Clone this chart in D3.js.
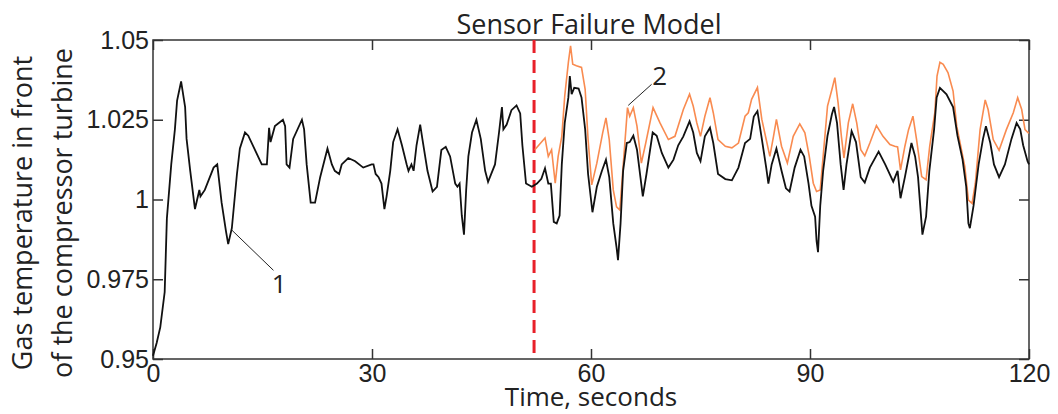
<!DOCTYPE html>
<html lang="en">
<head>
<meta charset="utf-8">
<title>Sensor Failure Model</title>
<script src="https://d3js.org/d3.v7.min.js"></script>
<style>
  body { margin: 0; background: #fff; }
  svg { display: block; font-family: "Open Sans", sans-serif; }
  .axis text { font-size: 25px; fill: #222; }
  .axis path { display: none; }
  .axis line { stroke: #333; stroke-width: 1.5; }
</style>
</head>
<body>
<script>
// data: curve 1 (black, model) and curve 2 (orange, failed sensor)
const time1 = [0, 0.5, 1.0, 1.6, 1.9, 2.5, 3.0, 3.3, 3.85, 4.4, 4.6, 5.1, 5.75, 6.35, 6.5, 7.1, 8.3, 8.8, 9.4, 10.0,
  10.3, 10.8, 11.5, 11.9, 12.6, 13.05, 14.9, 15.6, 15.9, 16.1, 16.7, 17.8, 18.1, 18.3, 18.7, 19.2, 20.4, 20.7, 21.05, 21.6,
  22.2, 22.9, 23.9, 24.5, 24.9, 25.5, 25.85, 26.75, 27.7, 28.8, 29.95, 30.2, 30.5, 30.9, 31.3, 31.7, 32.0, 32.5, 32.9, 33.5,
  34.1, 34.75, 35.0, 35.4, 35.7, 36.1, 36.6, 36.9, 37.6, 38.3, 38.9, 39.5, 40.1, 40.7, 41.4, 41.7, 42.0, 42.3, 42.6, 42.9,
  43.2, 43.7, 44.3, 44.9, 45.5, 45.9, 46.85, 47.4, 47.8, 48.0, 48.45, 49.1, 49.8, 50.3, 50.6, 51.1, 51.9, 52.6, 53.2, 53.7,
  54.15, 54.5, 54.9, 55.3, 55.7, 56.0, 56.4, 56.9, 57.1, 57.35, 57.7, 58.3, 58.7, 59.2, 59.6, 60.2, 60.8, 61.5, 62.05, 62.5,
  63.05, 63.5, 63.7, 64.05, 64.4, 64.9, 65.3, 65.8, 66.3, 67.1, 67.6, 68.45, 69.0, 69.7, 70.6, 71.3, 71.95, 72.65, 73.5, 74.0,
  74.5, 75.0, 75.6, 76.3, 76.75, 77.4, 78.4, 79.3, 80.2, 81.1, 81.8, 82.3, 82.8, 83.4, 84.0, 84.3, 84.75, 85.4, 86.1, 86.7,
  87.2, 87.9, 88.7, 89.2, 89.8, 90.2, 90.7, 90.9, 91.1, 91.4, 91.8, 92.4, 93.0, 93.3, 93.7, 94.2, 94.6, 95.0, 95.7, 96.3,
  96.95, 97.5, 98.2, 99.4, 100.3, 101.4, 102.0, 102.4, 103.0, 103.9, 104.4, 104.8, 105.4, 105.9, 106.35, 107.0, 107.35, 107.8, 108.7, 109.6,
  110.2, 110.9, 111.4, 111.7, 111.9, 112.4, 113.1, 113.7, 114.1, 114.7, 115.2, 115.9, 116.7, 117.6, 118.3, 118.8, 119.2, 119.8, 120];
const temp1 = [0.951, 0.955, 0.960, 0.971, 0.994, 1.011, 1.022, 1.031, 1.037, 1.029, 1.019, 1.009, 0.997, 1.003, 1.001, 1.003, 1.010, 1.011, 0.999, 0.990,
  0.986, 0.991, 1.008, 1.016, 1.021, 1.020, 1.011, 1.011, 1.0225, 1.018, 1.023, 1.025, 1.023, 1.011, 1.010, 1.019, 1.025, 1.022, 1.011, 0.999,
  0.999, 1.007, 1.016, 1.011, 1.009, 1.008, 1.011, 1.013, 1.012, 1.010, 1.011, 1.011, 1.008, 1.007, 1.005, 0.997, 1.001, 1.009, 1.018, 1.022,
  1.017, 1.011, 1.009, 1.011, 1.009, 1.017, 1.0235, 1.019, 1.009, 1.0025, 1.004, 1.0155, 1.0165, 1.0135, 1.005, 1.004, 1.005, 0.995, 0.989, 1.003,
  1.0135, 1.021, 1.025, 1.019, 1.009, 1.0055, 1.011, 1.021, 1.029, 1.022, 1.0235, 1.028, 1.0295, 1.027, 1.017, 1.005, 1.004, 1.005, 1.0065, 1.0098,
  1.005, 1.005, 0.993, 0.9925, 0.995, 1.011, 1.024, 1.032, 1.0387, 1.033, 1.035, 1.0348, 1.032, 1.022, 1.008, 0.996, 1.004, 1.009, 1.0125, 1.007,
  0.9925, 0.985, 0.981, 0.9925, 1.009, 1.0177, 1.018, 1.020, 1.0156, 1.001, 1.008, 1.021, 1.020, 1.0146, 1.010, 1.0125, 1.017, 1.0198, 1.0245, 1.021,
  1.0146, 1.012, 1.0198, 1.0225, 1.0177, 1.008, 1.0064, 1.006, 1.010, 1.0177, 1.019, 1.026, 1.0277, 1.019, 1.010, 1.005, 1.011, 1.016, 1.009, 1.0035,
  1.0025, 1.010, 1.0156, 1.0135, 1.005, 0.998, 0.9946, 0.987, 0.9835, 0.998, 1.009, 1.020, 1.0267, 1.029, 1.024, 1.011, 1.003, 1.011, 1.0214, 1.018,
  1.007, 1.0053, 1.010, 1.015, 1.011, 1.0056, 1.009, 1.0004, 1.007, 1.0177, 1.0135, 1.007, 0.989, 0.9946, 1.009, 1.022, 1.032, 1.035, 1.033, 1.029,
  1.020, 1.0125, 1.004, 0.9925, 0.991, 0.998, 1.011, 1.019, 1.023, 1.0177, 1.011, 1.007, 1.011, 1.019, 1.024, 1.022, 1.017, 1.012, 1.011];

const time2 = [52.3, 53.7, 54.15, 54.6, 55.1, 55.5, 56.0, 56.4, 56.9, 57.2, 57.5, 58.0, 58.7, 59.2, 59.6, 60.1, 60.8, 61.6, 62.05, 62.5,
  63.05, 63.5, 63.95, 64.5, 65.0, 65.3, 65.8, 66.3, 66.9, 67.5, 68.5, 69.45, 70.6, 71.5, 72.65, 73.5, 74.0, 74.5, 75.0, 75.6,
  76.3, 76.75, 77.4, 78.4, 79.3, 80.2, 81.1, 81.55, 82.0, 82.8, 83.4, 84.0, 84.5, 85.0, 85.4, 86.1, 86.9, 87.7, 88.6, 89.3,
  89.9, 90.45, 90.9, 91.4, 91.8, 92.4, 93.0, 93.4, 93.85, 94.3, 94.65, 95.25, 95.85, 96.4, 96.95, 97.5, 98.2, 99.1, 100.0, 100.95,
  101.6, 102.0, 102.4, 103.0, 103.5, 104.1, 104.6, 105.3, 105.9, 106.4, 107.1, 107.4, 107.8, 108.25, 108.9, 109.6, 110.1, 110.65, 111.2, 111.7,
  112.2, 112.65, 113.3, 114.0, 114.4, 115.1, 115.9, 116.9, 117.85, 118.45, 119.0, 119.45, 119.9, 120];
const temp2 = [1.0156, 1.0193, 1.0135, 1.0156, 1.0051, 1.0135, 1.0198, 1.0324, 1.043, 1.0482, 1.0424, 1.0419, 1.0414, 1.0345, 1.0188, 1.0046, 1.0114, 1.0209, 1.0256, 1.0188,
  1.003, 0.9977, 0.9967, 1.0135, 1.0288, 1.0261, 1.0288, 1.023, 1.0114, 1.0177, 1.0288, 1.024, 1.0188, 1.0198, 1.0282, 1.033, 1.0293, 1.024, 1.0198, 1.0261,
  1.0319, 1.0272, 1.0188, 1.0167, 1.0162, 1.0177, 1.0261, 1.0272, 1.0314, 1.0351, 1.0251, 1.0188, 1.0135, 1.0198, 1.0251, 1.0167, 1.0114, 1.0198, 1.0237, 1.0209,
  1.0135, 1.0051, 1.0025, 1.003, 1.0135, 1.0293, 1.0345, 1.0382, 1.0303, 1.0198, 1.013, 1.024, 1.030, 1.024, 1.0156, 1.0137, 1.0177, 1.0232, 1.0198, 1.0172,
  1.0167, 1.0165, 1.0093, 1.0167, 1.0219, 1.0261, 1.0188, 1.0072, 1.0062, 1.0167, 1.0272, 1.0387, 1.043, 1.0424, 1.0398, 1.034, 1.023, 1.0167, 1.0104, 0.9998,
  0.9988, 1.0051, 1.0219, 1.0312, 1.0282, 1.0188, 1.0154, 1.0219, 1.0272, 1.0319, 1.0282, 1.0219, 1.0209, 1.021];

const xTicks = [0, 30, 60, 90, 120];
const yTicks = [0.95, 0.975, 1, 1.025, 1.05];
const failureTime = 52.2;

// layout
const w = 1058;
const h = 414;
const margin = {left: 153, right: 29, top: 40, bottom: 55};

const svg = d3.select("body")
  .append("svg")
  .attr("width", w)
  .attr("height", h);

const xScale = d3.scaleLinear()
  .domain([0, 120])
  .range([margin.left, w - margin.right]);
const yScale = d3.scaleLinear()
  .domain([0.95, 1.05])
  .range([h - margin.bottom, margin.top]);

// axes, ticks point inward on all four sides
const fmt = d => String(d);
svg.append("g").attr("class", "axis")
  .attr("transform", `translate(0,${h - margin.bottom})`)
  .call(d3.axisBottom(xScale).tickValues(xTicks).tickFormat(fmt).tickSize(-10).tickPadding(5));
svg.append("g").attr("class", "axis")
  .attr("transform", `translate(0,${margin.top})`)
  .call(d3.axisTop(xScale).tickValues(xTicks).tickFormat("").tickSize(-10));
svg.append("g").attr("class", "axis")
  .attr("transform", `translate(${margin.left},0)`)
  .call(d3.axisLeft(yScale).tickValues(yTicks).tickFormat(fmt).tickSize(-10).tickPadding(4));
svg.append("g").attr("class", "axis")
  .attr("transform", `translate(${w - margin.right},0)`)
  .call(d3.axisRight(yScale).tickValues(yTicks).tickFormat("").tickSize(-10));

// frame
svg.append("rect")
  .attr("x", margin.left)
  .attr("y", margin.top)
  .attr("width", w - margin.left - margin.right)
  .attr("height", h - margin.top - margin.bottom)
  .attr("fill", "none")
  .attr("stroke", "#333")
  .attr("stroke-width", 1.5);

// failure moment
svg.append("line")
  .attr("x1", xScale(failureTime)).attr("x2", xScale(failureTime))
  .attr("y1", yScale(1.05)).attr("y2", yScale(0.95))
  .attr("stroke", "#e8202a")
  .attr("stroke-width", 3)
  .attr("stroke-dasharray", "13,7");

const line = d3.line()
  .x(d => xScale(d[0]))
  .y(d => yScale(d[1]));

svg.append("path")
  .datum(d3.zip(time2, temp2))
  .attr("fill", "none")
  .attr("stroke", "#f98b50")
  .attr("stroke-width", 1.6)
  .attr("d", line);

svg.append("path")
  .datum(d3.zip(time1, temp1))
  .attr("fill", "none")
  .attr("stroke", "#111")
  .attr("stroke-width", 1.8)
  .attr("d", line);

// curve labels
const labels = [
  {text: "1", from: [10.8, 0.9904], to: [16.5, 0.9778], at: [17.3, 0.9736]},
  {text: "2", from: [65.1, 1.0295], to: [68.3, 1.0361], at: [69.4, 1.0387]}
];
labels.forEach(l => {
  svg.append("line")
    .attr("x1", xScale(l.from[0])).attr("y1", yScale(l.from[1]))
    .attr("x2", xScale(l.to[0])).attr("y2", yScale(l.to[1]))
    .attr("stroke", "#222").attr("stroke-width", 1);
  svg.append("text")
    .attr("x", xScale(l.at[0])).attr("y", yScale(l.at[1]))
    .attr("dy", "0.35em")
    .attr("text-anchor", "middle")
    .attr("font-size", 26)
    .attr("fill", "#222")
    .text(l.text);
});

// titles
svg.append("text")
  .attr("x", 589).attr("y", 34)
  .attr("text-anchor", "middle")
  .attr("font-size", 27).attr("fill", "#222")
  .text("Sensor Failure Model");

svg.append("text")
  .attr("x", 591).attr("y", 406)
  .attr("text-anchor", "middle")
  .attr("font-size", 26).attr("fill", "#222")
  .text("Time, seconds");

const yLabel = svg.append("text")
  .attr("transform", "translate(32,213) rotate(-90)")
  .attr("text-anchor", "middle")
  .attr("font-size", 27).attr("fill", "#222");
yLabel.append("tspan").attr("x", 0).attr("dy", 0).text("Gas temperature in front");
yLabel.append("tspan").attr("x", 0).attr("dy", 40).text("of the compressor turbine");
</script>
</body>
</html>
